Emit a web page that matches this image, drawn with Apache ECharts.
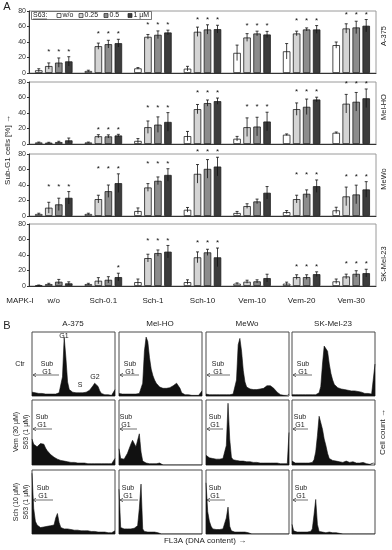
<!DOCTYPE html>
<html><head><meta charset="utf-8">
<script src="https://cdn.jsdelivr.net/npm/echarts@6/dist/echarts.min.js"></script>
<style>html,body{margin:0;padding:0;background:#fff}#c{width:392px;height:550px}</style>
</head><body><div id="c"></div>
<script>
// ---------- Panel A data ----------
const categories = ['w/o','Sch-0.1','Sch-1','Sch-10','Vem-10','Vem-20','Vem-30'];
const doses = ['w/o','0.25','0.5','1 µM'];
const cellLines = ['A-375','Mel-HO','MeWo','SK-Mel-23'];
const yTicks = [0,20,40,60,80];

const a375_w0 = [3.5, 2.6, 6, 5.6, 26, 28, 36];
const a375_d1 = [9, 34.6, 46.7, 53.2, 45.8, 51, 57.5];
const a375_d2 = [13.4, 37.2, 49.3, 56.2, 51, 56.2, 58.8];
const a375_d3 = [15, 38.5, 52.3, 56.6, 49.7, 56.2, 61];
const a375_e0 = [2, 1, 1, 3, 10, 10, 4];
const a375_e1 = [4, 4, 3, 6, 5, 3, 6];
const a375_e2 = [6, 5, 5, 6, 3, 2, 8];
const a375_e3 = [6, 5, 3, 5, 4, 5, 8];
const a375_star = ['0111','0111','0111','0111','0111','0111','0111'];

const melho_w0 = [2, 2, 4, 10.2, 6.8, 12, 14.5];
const melho_d1 = [1.7, 10, 21.7, 45, 21.7, 45, 52];
const melho_d2 = [2.5, 9.8, 25, 52.8, 22.5, 48, 54.5];
const melho_d3 = [4.7, 11, 28.5, 55.3, 29, 57.4, 59];
const melho_e0 = [0.5, 0.5, 3, 6, 3, 1, 1];
const melho_e1 = [0.5, 2, 8, 6, 12, 8, 12];
const melho_e2 = [1, 2, 10, 4, 12, 10, 12];
const melho_e3 = [3, 1.5, 12, 4, 12, 3, 12];
const melho_star = ['0000','0111','0111','0111','0111','0111','0111'];

const mewo_w0 = [2.6, 2.6, 6.4, 8, 3.9, 5, 7.3];
const mewo_d1 = [10.7, 21.8, 36.8, 54.4, 12.8, 21.8, 25.3];
const mewo_d2 = [15, 32, 45.4, 60.8, 18.8, 28.7, 27.8];
const mewo_d3 = [23.5, 42.4, 53, 63.8, 30, 38.5, 34.3];
const mewo_e0 = [1, 1, 4, 3, 2, 2, 4];
const mewo_e1 = [7, 5, 5, 12, 3, 5, 12];
const mewo_e2 = [8, 8, 5, 12, 3, 5, 12];
const mewo_e3 = [8, 12, 8, 12, 8, 8, 10];
const mewo_star = ['0111','0111','0111','0111','0000','0111','0111'];

const skmel_w0 = [0.8, 2.5, 5, 5, 3, 3, 6];
const skmel_d1 = [2.5, 6.8, 36, 37, 5.5, 11.5, 12.3];
const skmel_d2 = [5.5, 8, 42.5, 43.4, 6, 11.5, 15.7];
const skmel_d3 = [3.4, 11.5, 44.3, 37, 10.2, 15.3, 16.6];
const skmel_e0 = [0.5, 1, 4, 3, 1, 2, 3];
const skmel_e1 = [1, 4, 5, 7, 2, 3, 3];
const skmel_e2 = [3, 4, 4, 4, 2, 3, 4];
const skmel_e3 = [2, 5, 8, 12, 5, 3, 5];
const skmel_star = ['0000','0001','0111','0111','0000','0111','0111'];

// ---------- Panel B data (histogram heights, % of panel height, 50 bins) ----------
const histCols = ['A-375','Mel-HO','MeWo','SK-Mel-23'];
const h_a375_ctr = [6,5,5,4,4,4,4,4,3,3,3,3,3,3,3,4,5,8,30,92,60,22,10,7,6,5,5,5,5,5,5,6,6,7,9,12,16,20,21,15,8,4,3,2,2,2,1,1,1,10];
const h_melho_ctr = [4,3,3,3,3,3,3,3,3,3,3,3,4,6,20,70,92,85,60,42,32,25,20,17,14,13,12,12,12,12,13,14,16,19,20,18,12,5,3,2,2,2,1,1,1,1,1,1,1,8];
const h_mewo_ctr = [3,2,2,2,2,2,2,2,2,2,2,2,2,2,2,2,3,6,25,80,90,70,40,22,14,12,11,10,10,10,10,10,11,11,12,14,16,18,16,14,12,10,6,3,2,1,1,1,1,3];
const h_skmel_ctr = [2,2,2,2,2,2,2,2,2,2,2,2,2,2,2,3,5,15,50,78,81,70,50,35,25,18,15,13,12,11,10,10,9,9,9,8,8,8,8,7,7,6,5,4,4,4,3,3,3,50];
const h_a375_vem = [40,32,30,28,30,33,35,32,26,22,19,16,14,12,10,9,8,7,6,6,5,5,4,4,4,4,3,3,3,3,3,3,3,2,2,2,2,2,2,2,2,2,2,2,2,2,2,2,2,10];
const h_melho_vem = [25,10,8,9,12,18,25,32,38,33,28,30,48,20,6,4,3,3,2,2,2,2,2,1,3,1,0,0,0,0,0,0,0,0,0,0,0,0,0,0,0,0,0,0,0,0,0,0,0,0];
const h_mewo_vem = [15,12,11,10,10,9,9,9,9,9,10,11,30,95,40,12,8,7,7,6,6,6,6,5,5,6,5,5,4,4,4,4,3,3,3,3,3,3,3,3,3,3,3,3,2,2,2,2,2,50];
const h_skmel_vem = [6,4,3,3,3,3,3,3,3,3,3,3,4,8,20,45,75,65,55,40,30,18,10,8,7,6,6,5,5,5,4,5,6,4,4,3,5,6,3,4,3,2,4,3,2,5,1,1,3,1];
const h_a375_sch = [95,40,20,14,11,10,10,11,12,12,12,13,12,14,25,32,18,10,9,8,8,8,7,7,7,6,6,6,6,5,5,5,5,5,4,4,4,4,3,3,3,3,3,3,3,2,2,2,2,5];
const h_melho_sch = [70,10,8,8,8,8,8,8,8,9,10,13,40,78,8,4,3,3,3,3,4,3,3,2,2,0,0,0,0,0,0,0,0,0,0,0,0,0,0,0,0,0,0,0,0,0,0,0,0,0];
const h_mewo_sch = [80,35,20,12,8,8,7,7,7,7,8,10,25,42,12,5,4,3,3,3,3,3,3,3,2,2,0,0,0,0,0,0,0,0,0,0,0,0,0,0,0,0,0,0,0,0,0,0,0,0];
const h_skmel_sch = [15,5,4,3,3,3,3,3,3,3,3,4,8,30,54,15,4,3,3,3,2,2,3,2,2,2,2,2,1,2,0,0,0,0,0,0,0,0,0,0,0,0,0,0,0,0,0,0,0,0];

// ---------- assembly ----------
const FONT = 'Liberation Sans, Arial, sans-serif';
const barColors = ['#ffffff','#d4d4d4','#8c8c8c','#3c3c3c'];
const panels = [
  {means:[a375_w0,a375_d1,a375_d2,a375_d3], errs:[a375_e0,a375_e1,a375_e2,a375_e3], star:a375_star},
  {means:[melho_w0,melho_d1,melho_d2,melho_d3], errs:[melho_e0,melho_e1,melho_e2,melho_e3], star:melho_star},
  {means:[mewo_w0,mewo_d1,mewo_d2,mewo_d3], errs:[mewo_e0,mewo_e1,mewo_e2,mewo_e3], star:mewo_star},
  {means:[skmel_w0,skmel_d1,skmel_d2,skmel_d3], errs:[skmel_e0,skmel_e1,skmel_e2,skmel_e3], star:skmel_star}
];
const gridTops = [11, 82, 154, 224];
const GH = 62, GL = 29, GW = 347;
const BW = 7.5, BGAP = 2.5;

const grids = [], xAxes = [], yAxes = [], series = [];
panels.forEach((p, k) => {
  grids.push({left: GL, top: gridTops[k], width: GW, height: GH, show: true, borderColor: '#9a9a9a', borderWidth: 1, containLabel: false});
  xAxes.push({type: 'category', gridIndex: k, data: categories,
    axisLine: {lineStyle: {color: '#333', width: 1}}, axisTick: {show: false},
    axisLabel: {show: k === 3, fontSize: 8, color: '#222', fontFamily: FONT, margin: 11}});
  yAxes.push({type: 'value', gridIndex: k, min: yTicks[0], max: yTicks[yTicks.length-1], interval: 20,
    axisLine: {show: true, lineStyle: {color: '#333'}}, axisTick: {show: true, length: 2, lineStyle: {color: '#333'}},
    splitLine: {show: false},
    axisLabel: {fontSize: 7, color: '#333', fontFamily: FONT, margin: 3}});
  p.means.forEach((arr, d) => {
    series.push({type: 'bar', name: doses[d], xAxisIndex: k, yAxisIndex: k, data: arr,
      barWidth: BW, barGap: (BGAP / BW * 100) + '%',
      itemStyle: {color: barColors[d], borderColor: '#1e1e1e', borderWidth: 0.8},
      emphasis: {disabled: true}, animation: false, z: 2});
  });
  // error bars and asterisks
  p.means.forEach((arr, d) => {
    const data = arr.map((m, i) => {
      let gtop = 0;
      for (let q = 0; q < 4; q++) gtop = Math.max(gtop, p.means[q][i] + p.errs[q][i]);
      return [i, m, p.errs[d][i], p.star[i][d] === '1' ? 1 : 0, gtop];
    });
    series.push({type: 'custom', xAxisIndex: k, yAxisIndex: k, data: data, z: 5, silent: true,
      animation: false, clip: false,
      renderItem: (params, api) => {
        const cat = api.value(0), m = api.value(1), e = api.value(2);
        const off = (d - 1.5) * (BW + BGAP);
        const c = api.coord([cat, m]);
        const x = c[0] + off;
        const yt = api.coord([cat, m + e])[1];
        const yb = api.coord([cat, Math.max(0, m - e)])[1];
        const ch = [
          {type: 'line', shape: {x1: x, y1: yt, x2: x, y2: yb}, style: {stroke: '#111', lineWidth: 0.8}},
          {type: 'line', shape: {x1: x - 1.5, y1: yt, x2: x + 1.5, y2: yt}, style: {stroke: '#111', lineWidth: 0.8}}
        ];
        if (api.value(3) === 1) {
          const ys = api.coord([cat, api.value(4)])[1] - 5;
          ch.push({type: 'text', style: {text: '*', x: x, y: ys, textAlign: 'center', textVerticalAlign: 'middle', fontSize: 8, fill: '#111', fontFamily: FONT}});
        }
        return {type: 'group', children: ch};
      },
      encode: {x: 0, y: 1}});
  });
});

// Panel B grids
const histData = [
  [h_a375_ctr, h_melho_ctr, h_mewo_ctr, h_skmel_ctr],
  [h_a375_vem, h_melho_vem, h_mewo_vem, h_skmel_vem],
  [h_a375_sch, h_melho_sch, h_mewo_sch, h_skmel_sch]
];
const colX = [[32,115],[119,202],[206,289],[292,375]];
const rowY = [[332,396],[400,465],[470,534]];
const bins = h_a375_ctr.map((v, i) => i);
histData.forEach((row, r) => {
  row.forEach((h, c) => {
    const gi = grids.length;
    grids.push({left: colX[c][0], top: rowY[r][0], width: colX[c][1]-colX[c][0], height: rowY[r][1]-rowY[r][0],
      show: true, borderColor: '#4a4a4a', borderWidth: 1});
    xAxes.push({type: 'category', gridIndex: gi, data: bins, boundaryGap: false, show: false});
    yAxes.push({type: 'value', gridIndex: gi, min: 0, max: 100, show: false});
    series.push({type: 'line', xAxisIndex: gi, yAxisIndex: gi, data: h, symbol: 'none', silent: true,
      animation: false, lineStyle: {color: '#111', width: 0.6}, areaStyle: {color: '#111', opacity: 1}});
  });
});

// ---------- text annotations ----------
const g = [];
function txt(t, x, y, o) {
  o = o || {};
  g.push({type: 'text', x: x, y: y, rotation: o.rot || 0, z: 10,
    style: {text: t, fill: o.color || '#222', fontSize: o.size || 8, fontFamily: FONT, fontWeight: o.weight || 'normal',
      textAlign: o.align || 'center', textVerticalAlign: 'middle', lineHeight: o.lh || 8}});
}
txt('A', 7, 7, {size: 11});
txt('B', 7, 326, {size: 11});
txt('Sub-G1 cells [%] →', 8, 150, {rot: Math.PI/2, size: 8});
const rightY = [36, 107, 179, 264];
cellLines.forEach((n, i) => txt(n, 384, rightY[i], {rot: Math.PI/2, size: 7.5}));
txt('MAPK-I', 20, 301, {size: 8});
// legend box
g.push({type: 'rect', shape: {x: 31.5, y: 11.5, width: 120, height: 8}, style: {fill: '#fff', stroke: '#555', lineWidth: 0.8}, z: 8});
txt('S63:', 33, 15.5, {align: 'left', size: 7});
g.push({type: 'line', shape: {x1: 33, y1: 19, x2: 47, y2: 19}, style: {stroke: '#222', lineWidth: 0.6}, z: 10});
const legX = [57, 79, 104, 128];
doses.forEach((dn, i) => {
  g.push({type: 'rect', shape: {x: legX[i], y: 13.5, width: 4, height: 4}, style: {fill: barColors[i], stroke: '#222', lineWidth: 0.7}, z: 10});
  txt(dn, legX[i] + 5.5, 15.5, {align: 'left', size: 7});
});
// Panel B labels
const colHeadX = [73, 160, 247, 333];
histCols.forEach((n, i) => txt(n, colHeadX[i], 324, {size: 8}));
txt('Ctr', 20, 364, {size: 7});
txt('Vem (30 µM)', 16, 432, {rot: Math.PI/2, size: 7});
txt('S63 (1 µM)', 26, 432, {rot: Math.PI/2, size: 7});
txt('Sch (10 µM)', 16, 502, {rot: Math.PI/2, size: 7});
txt('S63 (1 µM)', 26, 502, {rot: Math.PI/2, size: 7});
txt('Cell count →', 383, 432, {rot: Math.PI/2, size: 8});
txt('FL3A (DNA content) →', 205, 541, {size: 8});
// Sub G1 markers
const subG1 = [
  [47, 368, 375, 33, 59], [130, 368, 375, 120, 139], [218, 368, 375, 207, 230], [303, 368, 375, 293, 312],
  [42, 421, 429, 33, 52], [126, 421, 429, 120, 137], [215, 421, 429, 207, 223], [300, 421, 429, 293, 308],
  [43, 492, 500, 33, 53], [128, 492, 500, 120, 138], [215, 492, 500, 207, 225], [301, 492, 500, 293, 308]
];
subG1.forEach(s => {
  txt('Sub\nG1', s[0], s[1], {size: 7, lh: 7.5});
  g.push({type: 'line', shape: {x1: s[3], y1: s[2], x2: s[4], y2: s[2]}, style: {stroke: '#333', lineWidth: 0.7}, z: 10});
  g.push({type: 'polyline', shape: {points: [[s[3]+3, s[2]-1.8], [s[3], s[2]], [s[3]+3, s[2]+1.8]]}, style: {stroke: '#333', lineWidth: 0.7, fill: null}, z: 10});
});
txt('G1', 64, 336, {size: 7});
txt('S', 80, 385, {size: 7});
txt('G2', 95, 377, {size: 7});

const chart = echarts.init(document.getElementById('c'), null, {renderer: 'canvas'});
chart.setOption({
  animation: false,
  backgroundColor: '#fff',
  grid: grids, xAxis: xAxes, yAxis: yAxes, series: series, graphic: g
});
</script></body></html>
